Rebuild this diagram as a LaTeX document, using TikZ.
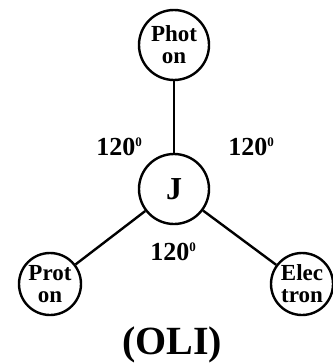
\documentclass[tikz,border=0pt]{standalone}
\usepackage{fontspec}
\setmainfont{Liberation Serif}
\newcommand{\degsup}{\raisebox{9pt}{\fontsize{13}{13}\selectfont 0}}
\begin{document}
\begin{tikzpicture}[x=1pt,y=-1pt,
  part/.style={circle,draw,line width=2.4pt,inner sep=-2pt,align=center,font=\fontsize{23}{22}\selectfont\bfseries},
  core/.style={circle,draw,line width=2.4pt,minimum size=70pt,inner sep=0pt,font=\fontsize{32}{32}\selectfont\bfseries},
  link/.style={line width=2.4pt},
  ang/.style={font=\fontsize{26}{26}\selectfont\bfseries,inner sep=0pt}]
\useasboundingbox (0,0) rectangle (332,364);
\node[core] (J) at (174,189) {J};
\node[part,minimum size=70pt] (ph) at (174,45) {Phot\\on};
\node[part,minimum size=62pt] (pr) at (50,284) {Prot\\on};
\node[part,minimum size=62pt] (el) at (302,284) {Elec\\tron};
\draw[link] (J) -- (ph);
\draw[link] (J) -- (pr);
\draw[link] (J) -- (el);
\node[ang] (a1) at (119,147) {120\degsup};
\node[ang] (a2) at (251,147) {120\degsup};
\node[ang] (a3) at (173,252) {120\degsup};
\node[font=\fontsize{40}{40}\selectfont\bfseries,anchor=base,inner sep=0pt] (t) at (172,354) {(OLI)};
\end{tikzpicture}
\end{document}
